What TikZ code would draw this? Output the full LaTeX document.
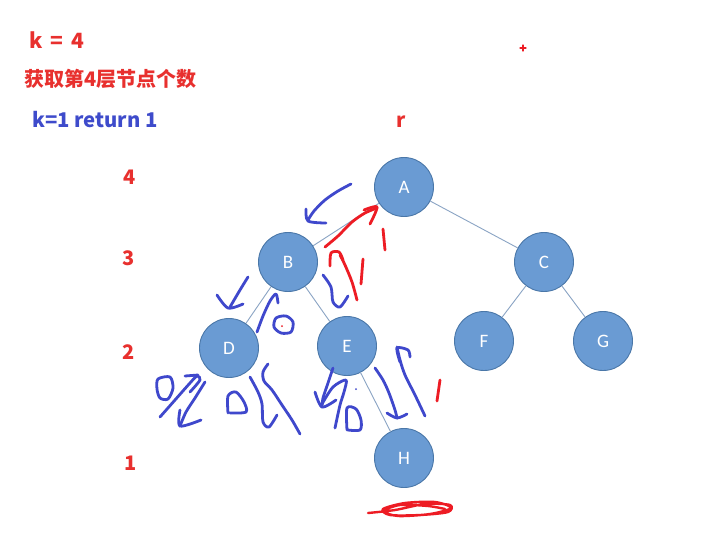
\documentclass[tikz,border=0pt]{standalone}
\usepackage{fontspec}
\newfontfamily\cjk{Noto Sans CJK SC}
\newfontfamily\calib{Carlito}
\definecolor{nodefill}{HTML}{6A9BD3}
\definecolor{nodeline}{HTML}{4A77A8}
\definecolor{edgec}{HTML}{8AA4C4}
\definecolor{txtred}{HTML}{E8302E}
\definecolor{txtblue}{HTML}{3E4BCB}
\definecolor{penblue}{HTML}{3F48CC}
\definecolor{penred}{HTML}{ED1C24}
\tikzset{
  tnode/.style={circle,draw=nodeline,line width=0.9pt,fill=nodefill,minimum size=59pt,inner sep=0pt,text=white,font=\calib\fontsize{19}{19}\selectfont},
  tedge/.style={draw=edgec,line width=0.9pt},
  redtxt/.style={text=txtred,font=\cjk\bfseries\fontsize{20}{20}\selectfont,inner sep=0pt},
  bluetxt/.style={text=txtblue,font=\cjk\bfseries\fontsize{20}{20}\selectfont,inner sep=0pt},
  bpen/.style={draw=penblue,line width=2.8pt,line cap=round,line join=round},
  rpen/.style={draw=penred,line width=2.8pt,line cap=round,line join=round}
}
\begin{document}
\begin{tikzpicture}[x=1pt,y=-1pt]
\useasboundingbox[fill=white] (0,0) rectangle (717,550);
% texts
\node[redtxt,anchor=west,font=\cjk\bfseries\fontsize{21}{21}\selectfont] (k4) at (29,40) {k\,\ =\,\ 4};
\node[redtxt,anchor=west,font=\cjk\bfseries\fontsize{20}{20}\selectfont] (title) at (24,79) {获取第4层节点个数};
\node[bluetxt,anchor=west,font=\cjk\bfseries\fontsize{20.3}{20}\selectfont] (ret) at (32,120) {k=1 return 1};
\node[redtxt] (r) at (401,122) {r};
\node[redtxt] (l4) at (130,177) {4};
\node[redtxt] (l3) at (129,258) {3};
\node[redtxt] (l2) at (129,352) {2};
\node[redtxt] (l1) at (131,463) {1};
% tree
\node[tnode] (A) at (404,187) {A};
\node[tnode] (B) at (288,262) {B};
\node[tnode] (C) at (544,262) {C};
\node[tnode] (D) at (229,348) {D};
\node[tnode] (E) at (347,346) {E};
\node[tnode] (F) at (484,341) {F};
\node[tnode] (G) at (603,341) {G};
\node[tnode] (H) at (404,458) {H};
\draw[tedge] (A) -- (B);
\draw[tedge] (A) -- (C);
\draw[tedge] (B) -- (D);
\draw[tedge] (B) -- (E);
\draw[tedge] (C) -- (F);
\draw[tedge] (C) -- (G);
\draw[tedge] (E) -- (H);
% red marks
\draw[rpen,line width=1.2pt] (520,48) -- (526,48) (523,45) -- (523,51);
\draw[rpen] plot[smooth] coordinates {(325,247) (338,236) (352,222) (365,213) (377,208)};
\draw[rpen] plot[smooth] coordinates {(364,210) (377,207) (370,224)};
\draw[rpen] plot[smooth] coordinates {(357,300) (352,282) (345,265) (340,255)};
\draw[rpen] plot[smooth] coordinates {(330,266) (331,253) (339,252) (343,260)};
\draw[rpen] (383,229) -- (385,250);
\draw[rpen] (363,259) -- (361,284);
\draw[rpen] (440,380) -- (437,401);
\fill[penred] (282,326) circle (1pt);
\draw[rpen,line width=2.4pt] plot[smooth] coordinates {(368,513) (395,510) (425,504) (450,505) (448,512) (420,515) (390,515) (383,509) (405,503) (435,502) (451,508) (430,514) (398,516) (384,511) (400,505) (428,506) (445,509)};
% blue marks
\draw[bpen] plot[smooth] coordinates {(351,184) (338,191) (325,200) (314,211) (308,220)};
\draw[bpen] plot[smooth] coordinates {(306,209) (308,221) (326,223)};
\draw[bpen] plot[smooth] coordinates {(248,277) (240,290) (230,307)};
\draw[bpen] plot[smooth] coordinates {(217,295) (228,308) (243,304)};
\draw[bpen] plot[smooth] coordinates {(323,275) (331,287) (333,302) (340,307) (348,296)};
\draw[bpen] plot[smooth] coordinates {(257,332) (263,316) (270,301) (276,294) (278,303)};
\draw[bpen] plot[smooth cycle] coordinates {(276,318) (286,316) (293,322) (291,332) (281,333) (274,327)};
% left of D
\draw[bpen] plot[smooth cycle] coordinates {(158,379) (170,377) (173,388) (168,399) (160,398) (157,389)};
\draw[bpen] plot[smooth] coordinates {(160,417) (175,400) (190,383) (197,376) (200,380) (190,392)};
\draw[bpen] plot[smooth] coordinates {(185,376) (198,375)};
\draw[bpen] plot[smooth] coordinates {(205,382) (195,398) (186,412) (180,426)};
\draw[bpen] plot[smooth] coordinates {(180,410) (180,426) (201,420)};
\draw[bpen] plot[smooth] coordinates {(228,413) (228,396) (236,392) (244,402) (246,412) (230,413)};
% below D right
\draw[bpen] plot[smooth] coordinates {(250,377) (258,392) (262,404) (263,422) (269,427) (277,415)};
\draw[bpen] plot[smooth] coordinates {(268,364) (263,372) (264,381) (272,390) (282,405) (292,420) (300,434)};
% near E
\draw[bpen] plot[smooth] coordinates {(333,368) (328,383) (323,398) (322,407)};
\draw[bpen] plot[smooth] coordinates {(315,392) (322,407) (336,400)};
\draw[bpen] plot[smooth] coordinates {(322,404) (333,387) (346,380) (344,392) (340,405) (335,428)};
\draw[bpen] plot[smooth] coordinates {(347,430) (347,408) (356,409) (361,420) (360,430) (348,430)};
\fill[penblue] (356,389) circle (1pt);
% right of E
\draw[bpen] plot[smooth] coordinates {(375,368) (383,380) (389,393) (395,410) (397,418)};
\draw[bpen] plot[smooth] coordinates {(387,413) (397,418) (407,414)};
\draw[bpen] plot[smooth] coordinates {(425,416) (415,395) (405,375) (400,360) (397,347)};
\draw[bpen] plot[smooth] coordinates {(400,362) (397,348) (408,350) (410,357)};
\end{tikzpicture}
\end{document}
